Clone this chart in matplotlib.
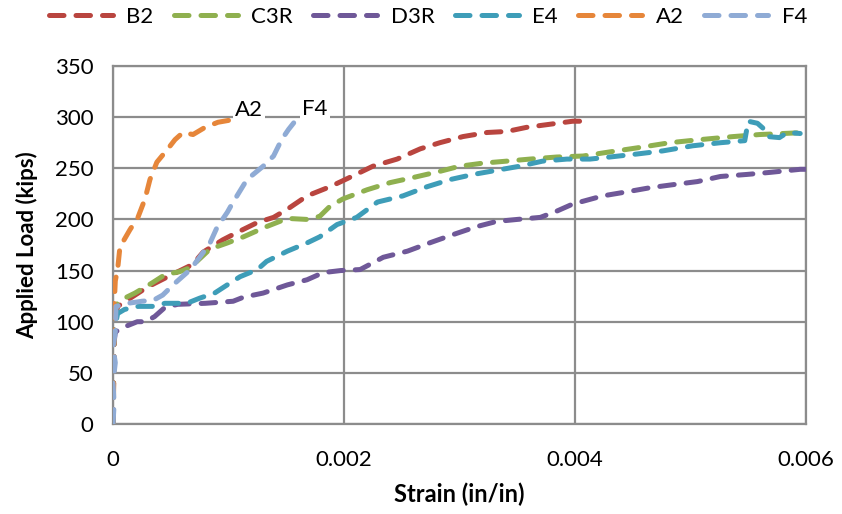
import matplotlib
matplotlib.use("Agg")
import matplotlib.pyplot as plt

plt.rcParams['font.family'] = ['Lato', 'DejaVu Sans']

# Strain (in/in) and applied load (kips) for each specimen
b2_strain = [0, 0.00001, 0.00004, 0.0003, 0.00051, 0.00069, 0.00078, 0.00095, 0.00107, 0.00125,
             0.00139, 0.00151, 0.00168, 0.00188, 0.00203, 0.00225, 0.00246, 0.00266, 0.00283,
             0.00303, 0.00324, 0.00341, 0.00358, 0.00378, 0.00398, 0.00407]
b2_load = [0, 100, 115, 134, 146, 156, 168, 180, 187, 197,
           202, 210, 223, 232, 240, 252, 259, 269, 275,
           281, 285, 286, 290, 293, 296, 296]

c3r_strain = [0, 0.00001, 0.00003, 0.0001, 0.00019, 0.00034, 0.00045, 0.00058, 0.00067, 0.00084,
              0.00099, 0.00113, 0.00133, 0.00151, 0.00168, 0.00179, 0.00188, 0.00199, 0.0022,
              0.0024, 0.0026, 0.00283, 0.003, 0.0032, 0.00341, 0.00361, 0.00384, 0.00407,
              0.0043, 0.00454, 0.00482, 0.00508, 0.00537, 0.0056, 0.006]
c3r_load = [0, 100, 117, 123, 128, 138, 146, 149, 153, 171,
            177, 183, 193, 201, 200, 203, 213, 220, 229,
            236, 241, 247, 252, 255, 257, 259, 261, 262,
            266, 270, 275, 278, 281, 283, 285]

d3r_strain = [0, 0.00001, 0.00002, 0.0001, 0.00021, 0.00028, 0.00036, 0.00045, 0.00056, 0.0008,
              0.00104, 0.00113, 0.0013, 0.00151, 0.00168, 0.00182, 0.00197, 0.00214, 0.00234,
              0.00255, 0.00274, 0.00294, 0.00315, 0.00332, 0.0035, 0.0037, 0.00384, 0.00398,
              0.00424, 0.00445, 0.00465, 0.00485, 0.00506, 0.00526, 0.00549, 0.00569, 0.00595, 0.006]
d3r_load = [0, 80, 90, 95, 100, 100, 105, 114, 117, 118,
            120, 124, 128, 136, 141, 148, 150, 151, 163,
            169, 177, 185, 193, 198, 200, 202, 208, 215,
            223, 227, 231, 234, 237, 242, 244, 246, 249, 249]

e4_strain = [0, 0.00001, 0.00004, 0.0001, 0.00022, 0.00034, 0.00045, 0.00064, 0.00075, 0.00088,
             0.00103, 0.0011, 0.00125, 0.00133, 0.00151, 0.00168, 0.00179, 0.00194, 0.00211,
             0.00229, 0.00251, 0.00272, 0.00292, 0.00312, 0.00332, 0.00352, 0.00372, 0.00393,
             0.00413, 0.0043, 0.00454, 0.00476, 0.00502, 0.00526, 0.00547, 0.0055, 0.00558,
             0.00565, 0.00567, 0.00577, 0.00584, 0.00595]
e4_load = [0, 90, 108, 112, 115, 115, 118, 118, 123, 128,
           139, 144, 151, 159, 169, 177, 183, 195, 202,
           217, 223, 232, 239, 244, 248, 252, 257, 259,
           259, 261, 264, 267, 272, 275, 277, 296, 294,
           287, 281, 280, 285, 284]

a2_strain = [0, 0.00001, 0.00001, 0.00002, 0.00004, 0.00006, 0.000147, 0.000216, 0.000277, 0.00032,
             0.00038, 0.000468, 0.000537, 0.000606, 0.000693, 0.000797, 0.000909, 0.00101]
a2_load = [0, 60, 115, 140, 151, 173, 190, 202, 220, 239,
           256, 268, 278, 285, 283, 290, 295, 297]

f4_strain = [0, 0.00001, 0.0, 0.00002, 0.0, 0.00002, 0.000026, 0.00013, 0.00025, 0.00035,
             0.00043, 0.00054, 0.00067, 0.00075, 0.00084, 0.0009, 0.00099, 0.00103, 0.00116,
             0.0013, 0.00139, 0.00146, 0.00152, 0.00159]
f4_load = [0, 20, 40, 60, 75, 90, 115, 118, 120, 121,
           126, 138, 151, 163, 177, 192, 207, 215, 239,
           252, 262, 278, 288, 298]

series = [
    ("B2", b2_strain, b2_load, "#B9453F"),
    ("C3R", c3r_strain, c3r_load, "#8FB04F"),
    ("D3R", d3r_strain, d3r_load, "#6F5898"),
    ("E4", e4_strain, e4_load, "#3E9DB8"),
    ("A2", a2_strain, a2_load, "#E6863A"),
    ("F4", f4_strain, f4_load, "#8FABD5"),
]
end_labels = ["A2", "F4"]

x_ticks = [0, 0.002, 0.004, 0.006]
x_tick_labels = ["0", "0.002", "0.004", "0.006"]
y_ticks = [0, 50, 100, 150, 200, 250, 300, 350]

fig = plt.figure(figsize=(8.42, 5.14), dpi=100)
ax = fig.add_axes([0.1342, 0.1751, 0.8230, 0.6965])

lw = 3.6
lines = {}
for name, xs, ys, color in series:
    ln, = ax.plot(xs, ys, color=color, lw=lw, linestyle=(0, (2.9, 2.4)),
                  dash_capstyle='round', solid_capstyle='round', label=name, zorder=3)
    lines[name] = (ln, xs, ys)

for name in end_labels:
    _, xs, ys = lines[name]
    ax.annotate(name, xy=(xs[-1], ys[-1]), xytext=(4, 7), textcoords='offset points',
                ha='left', va='center', fontsize=16, color='black', zorder=4,
                bbox=dict(boxstyle='square,pad=0.1', fc='white', ec='none'))

ax.set_xlim(0, 0.006)
ax.set_ylim(0, 350)
ax.set_xticks(x_ticks)
ax.set_xticklabels(x_tick_labels)
ax.set_yticks(y_ticks)
ax.tick_params(axis='both', length=0, labelsize=16)
ax.tick_params(axis='x', pad=19)
ax.tick_params(axis='y', pad=14)

ax.grid(True, color='#8C8C8C', lw=1.6, zorder=0)
ax.set_axisbelow(True)
for side in ['top', 'right', 'left', 'bottom']:
    ax.spines[side].set_color('#8C8C8C')
    ax.spines[side].set_linewidth(1.6)

ax.set_xlabel("Strain (in/in)", fontsize=17, fontweight='bold', labelpad=9)
ax.set_ylabel("Applied Load (kips)", fontsize=16, fontweight='bold', labelpad=12)

fig.legend(handles=[lines[n][0] for n, *_ in series], loc='center',
           bbox_to_anchor=(0.508, 0.967), ncol=6, frameon=False, fontsize=16,
           handlelength=2.9, handletextpad=0.6, columnspacing=0.9)

fig.savefig("out.png", dpi=100)
